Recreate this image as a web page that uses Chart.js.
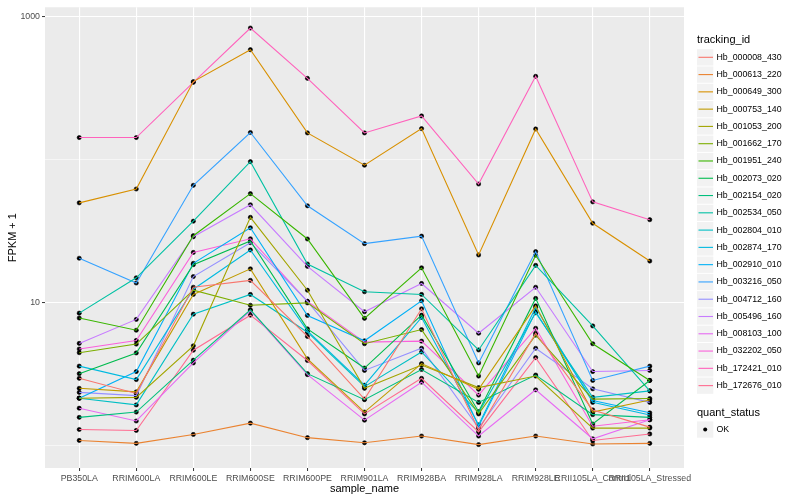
<!DOCTYPE html>
<html>
<head>
<meta charset="utf-8">
<script src="https://cdn.jsdelivr.net/npm/chart.js@4.4.1/dist/chart.umd.min.js"></script>
<style>
  html, body { margin: 0; padding: 0; background: #fff; }
  #wrap { width: 800px; height: 500px; }
</style>
</head>
<body>
<div id="wrap"><canvas id="chart" width="800" height="500"></canvas></div>
<script>
// samples on the x axis
var samples = ['PB350LA', 'RRIM600LA', 'RRIM600LE', 'RRIM600SE', 'RRIM600PE', 'RRIM901LA',
  'RRIM928BA', 'RRIM928LA', 'RRIM928LE', 'RRII105LA_Control', 'RRII105LA_Stressed'];

// FPKM + 1, one array per gene
var hb000008_430 = [2.96, 2.32, 12.8, 14.3, 5.80, 2.12, 9.05, 1.29, 6.11, 1.78, 1.35];
var hb000613_220 = [1.09, 1.04, 1.20, 1.44, 1.14, 1.05, 1.17, 1.02, 1.17, 1.03, 1.04];
var hb000649_300 = [49.7, 62.1, 349, 583, 153, 91.0, 164, 21.5, 163, 35.8, 19.5];
var hb000753_140 = [2.52, 2.38, 11.4, 17.2, 4.05, 1.72, 3.75, 2.48, 9.49, 1.72, 2.09];
var hb001053_200 = [2.15, 2.18, 4.99, 39.4, 12.2, 2.52, 3.66, 2.55, 3.07, 1.33, 1.33];
var hb001662_170 = [4.47, 5.13, 12.2, 9.58, 9.95, 5.16, 6.48, 1.67, 5.92, 2.12, 2.14];
var hb001951_240 = [7.80, 6.41, 29.3, 57.6, 27.8, 7.76, 17.5, 3.07, 21.4, 5.16, 2.86];
var hb002073_020 = [3.19, 4.45, 18.4, 26.9, 6.55, 3.49, 8.17, 1.73, 10.7, 1.42, 2.86];
var hb002154_020 = [1.58, 1.72, 3.96, 8.91, 3.19, 2.10, 3.41, 2.01, 3.12, 1.65, 1.58];
var hb002534_050 = [8.44, 14.9, 37.0, 96.4, 18.6, 11.9, 11.4, 4.67, 18.2, 6.87, 2.42];
var hb002804_010 = [2.15, 1.93, 8.30, 11.4, 6.21, 2.59, 4.52, 1.70, 8.49, 2.18, 2.42];
var hb002874_170 = [3.60, 2.90, 12.4, 23.3, 6.34, 2.65, 7.88, 1.40, 9.24, 2.01, 1.64];
var hb002910_010 = [2.15, 3.30, 18.8, 33.3, 8.13, 5.41, 10.3, 1.37, 8.63, 2.07, 1.70];
var hb003216_050 = [20.4, 13.7, 65.9, 154, 47.4, 25.8, 29.1, 3.79, 22.7, 2.86, 3.60];
var hb004712_160 = [2.36, 2.24, 15.2, 26.2, 10.2, 3.36, 4.80, 1.33, 4.80, 2.50, 2.01];
var hb005496_160 = [5.19, 7.63, 28.8, 48.2, 17.9, 8.63, 13.6, 6.11, 12.8, 3.30, 3.36];
var hb008103_100 = [1.83, 1.49, 3.79, 8.77, 3.14, 1.51, 2.78, 1.17, 2.46, 1.12, 1.52];
var hb032202_050 = [4.74, 5.44, 22.4, 27.9, 10.2, 5.30, 5.38, 2.26, 6.62, 1.37, 1.52];
var hb172421_010 = [142, 142, 345, 826, 368, 153, 201, 67.3, 380, 50.5, 37.9];
var hb172676_010 = [1.30, 1.28, 4.65, 8.17, 3.94, 1.67, 2.96, 1.25, 4.13, 1.09, 1.21];

var trackingIds = ['Hb_000008_430', 'Hb_000613_220', 'Hb_000649_300', 'Hb_000753_140', 'Hb_001053_200',
  'Hb_001662_170', 'Hb_001951_240', 'Hb_002073_020', 'Hb_002154_020', 'Hb_002534_050', 'Hb_002804_010',
  'Hb_002874_170', 'Hb_002910_010', 'Hb_003216_050', 'Hb_004712_160', 'Hb_005496_160', 'Hb_008103_100',
  'Hb_032202_050', 'Hb_172421_010', 'Hb_172676_010'];
var seriesValues = [hb000008_430, hb000613_220, hb000649_300, hb000753_140, hb001053_200,
  hb001662_170, hb001951_240, hb002073_020, hb002154_020, hb002534_050, hb002804_010,
  hb002874_170, hb002910_010, hb003216_050, hb004712_160, hb005496_160, hb008103_100,
  hb032202_050, hb172421_010, hb172676_010];

var yMajor = [10, 1000];
var yMinor = [1, 100];
var quantStatus = ['OK'];

(function () {
  'use strict';

  var colors = ['#F8766D', '#EA8331', '#D89000', '#C09B00', '#A3A500', '#7CAE00', '#39B600',
    '#00BB4E', '#00BF7D', '#00C1A3', '#00BFC4', '#00BAE0', '#00B0F6', '#35A2FF', '#9590FF',
    '#C77CFF', '#E76BF3', '#FA62DB', '#FF62BC', '#FF6C91'];
  var font = '"Liberation Sans", Arial, Helvetica, sans-serif';

  var datasets = seriesValues.map(function (vals, k) {
    return {
      label: trackingIds[k],
      data: vals.map(function (v, i) { return { x: i, y: v }; }),
      borderColor: colors[k],
      backgroundColor: colors[k],
      borderWidth: 1.1,
      pointRadius: 0,
      tension: 0,
      fill: false
    };
  });

  // all points on top of the lines
  var pts = [];
  seriesValues.forEach(function (vals) {
    vals.forEach(function (v, i) { pts.push({ x: i, y: v }); });
  });
  datasets.push({
    label: 'points',
    data: pts,
    showLine: false,
    pointRadius: 2.1,
    pointBackgroundColor: '#000',
    pointBorderColor: '#000',
    pointBorderWidth: 0.6
  });

  var panelPlugin = {
    id: 'panel',
    beforeDraw: function (chart) {
      var a = chart.chartArea, c = chart.ctx;
      c.save();
      c.fillStyle = '#EBEBEB';
      c.fillRect(a.left, a.top, a.right - a.left, a.bottom - a.top);
      c.restore();
    },
    afterDraw: function (chart) {
      var c = chart.ctx, a = chart.chartArea;
      c.save();
      c.fillStyle = '#000';
      c.font = '11px ' + font;
      c.textBaseline = 'middle';
      c.textAlign = 'center';
      c.fillText('sample_name', (a.left + a.right) / 2, 489);
      c.save();
      c.translate(13, (a.top + a.bottom) / 2);
      c.rotate(-Math.PI / 2);
      c.fillText('FPKM + 1', 0, 0);
      c.restore();

      // legend: tracking_id
      c.textAlign = 'left';
      c.fillText('tracking_id', 697, 40);
      var step = 17.28, y0 = 57.3;
      trackingIds.forEach(function (id, k) {
        var cy = y0 + k * step;
        c.fillStyle = '#F2F2F2';
        c.fillRect(697, cy - 8.1, 16.3, 16.3);
        c.strokeStyle = colors[k];
        c.lineWidth = 1.1;
        c.beginPath();
        c.moveTo(698.5, cy);
        c.lineTo(713, cy);
        c.stroke();
        c.fillStyle = '#000';
        c.font = '8.8px ' + font;
        c.fillText(id, 716.5, cy);
      });

      // legend: quant_status
      c.font = '11px ' + font;
      c.fillText('quant_status', 697, 412.5);
      quantStatus.forEach(function (s, k) {
        var cy = 429.5 + k * step;
        c.fillStyle = '#F2F2F2';
        c.fillRect(697, cy - 8.1, 16.3, 16.3);
        c.fillStyle = '#000';
        c.beginPath();
        c.arc(705.2, cy, 2, 0, Math.PI * 2);
        c.fill();
        c.font = '8.8px ' + font;
        c.fillText(s, 716.5, cy);
      });
      c.restore();
    }
  };

  var ctx = document.getElementById('chart').getContext('2d');
  new Chart(ctx, {
    type: 'line',
    data: { datasets: datasets },
    plugins: [panelPlugin],
    options: {
      responsive: false,
      animation: false,
      events: [],
      layout: { padding: { left: 0, top: 5, right: 116, bottom: 0 } },
      plugins: { legend: { display: false }, tooltip: { enabled: false } },
      scales: {
        x: {
          type: 'linear',
          min: -0.6,
          max: 10.6,
          afterBuildTicks: function (axis) {
            axis.ticks = samples.map(function (s, i) { return { value: i }; });
          },
          afterFit: function (axis) { axis.height = 32; },
          border: { display: false },
          grid: { color: '#FFFFFF', lineWidth: 1.1, tickLength: 3, tickColor: '#333333', tickWidth: 1 },
          ticks: {
            autoSkip: false,
            maxRotation: 0,
            minRotation: 0,
            padding: 2,
            color: '#4D4D4D',
            font: { family: font, size: 8.8 },
            callback: function (v) { return samples[v]; }
          }
        },
        y: {
          type: 'logarithmic',
          min: 0.74,
          max: 1153,
          afterBuildTicks: function (axis) {
            axis.ticks = yMinor.concat(yMajor).sort(function (a, b) { return a - b; })
              .map(function (v) { return { value: v }; });
          },
          afterFit: function (axis) { axis.width = 45; },
          border: { display: false },
          grid: {
            color: '#FFFFFF',
            lineWidth: function (c) { return yMajor.indexOf(c.tick.value) >= 0 ? 1.1 : 0.55; },
            tickLength: 3,
            tickWidth: 1,
            tickColor: function (c) { return yMajor.indexOf(c.tick.value) >= 0 ? '#333333' : 'rgba(0,0,0,0)'; }
          },
          ticks: {
            padding: 2,
            color: '#4D4D4D',
            font: { family: font, size: 8.8 },
            callback: function (v) { return yMajor.indexOf(v) >= 0 ? String(v) : ''; }
          }
        }
      }
    }
  });
}());
</script>
</body>
</html>
